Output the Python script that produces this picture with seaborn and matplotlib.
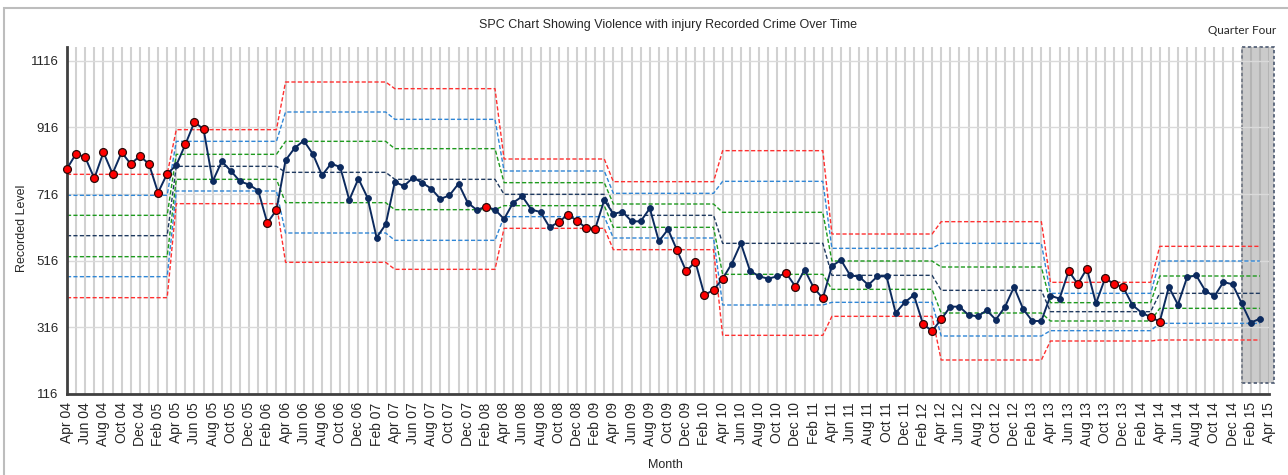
import numpy as np
import pandas as pd
import seaborn as sns
import matplotlib.pyplot as plt
from matplotlib.patches import Rectangle

# month labels Apr 04 .. Apr 15 (data runs to Mar 15)
months = pd.date_range("2004-04-01", "2015-04-01", freq="MS").strftime("%b %y").tolist()

recorded = [
    792, 837, 826, 763, 841, 777, 841, 806, 830, 806, 720, 777,
    802, 865, 932, 910, 754, 814, 785, 754, 744, 726, 629, 668,
    817, 854, 876, 836, 772, 807, 797, 698, 762, 705, 585, 625,
    752, 740, 765, 750, 732, 701, 712, 747, 690, 668, 678, 669,
    641, 690, 709, 669, 662, 616, 632, 654, 636, 614, 611, 698,
    656, 663, 634, 634, 673, 574, 610, 547, 484, 513, 413, 428,
    462, 507, 568, 486, 469, 462, 469, 478, 438, 489, 435, 403,
    500, 518, 472, 468, 443, 469, 469, 359, 391, 413, 326, 305,
    340, 378, 378, 353, 349, 367, 339, 377, 437, 371, 335, 335,
    411, 402, 485, 446, 492, 388, 463, 446, 436, 383, 360, 347,
    333, 437, 384, 466, 472, 426, 409, 452, 445, 388, 330, 342,
]

# points highlighted in red
flagged = [0, 1, 2, 3, 4, 5, 6, 7, 8, 9, 10, 11, 13, 14, 15, 22, 23, 46,
           54, 55, 56, 57, 58, 67, 68, 69, 70, 71, 72, 79, 80, 82, 83,
           94, 95, 96, 110, 111, 112, 114, 115, 116, 119, 120]

# control limits, one value per financial year (Apr-Mar)
ucl = [775, 909, 1052, 1032, 821, 753, 846, 596, 633, 451, 559]
upper2 = [712, 874, 962, 940, 785, 718, 754, 553, 568, 418, 515]
upper1 = [652, 835, 874, 852, 750, 686, 661, 515, 497, 390, 470]
centre = [591, 799, 781, 760, 715, 652, 568, 472, 427, 363, 418]
lower1 = [528, 760, 690, 669, 681, 616, 475, 430, 359, 335, 373]
lower2 = [468, 725, 599, 577, 648, 584, 383, 391, 290, 306, 328]
lcl = [405, 687, 511, 490, 613, 549, 292, 349, 218, 275, 278]

n = len(recorded)
df = pd.DataFrame({"idx": np.arange(n), "value": recorded})
df["flag"] = df["idx"].isin(flagged)
year = df["idx"] // 12

RED = "#ff3030"
BLUE = "#2f86d6"
GREEN = "#1e9a1e"
NAVY = "#1f3a60"
DATA = "#0c2a5e"

sns.set_theme(style="white")
plt.rcParams["font.family"] = ["Liberation Sans", "DejaVu Sans"]

fig = plt.figure(figsize=(12.88, 4.75), dpi=100)
ax = fig.add_axes([67 / 1288, 1 - 394 / 475, (1269 - 67) / 1288, (394 - 47) / 475])

# shaded quarter four box
ax.add_patch(Rectangle((129, 149), 3.6, 1157 - 149, facecolor="#cbcbcb",
                       edgecolor="#4a5870", ls=(0, (2, 1.5)), lw=1.2,
                       clip_on=False, zorder=0.3))

dash = (0, (3, 1.6))
for vals, col in [(ucl, RED), (upper2, BLUE), (upper1, GREEN), (centre, NAVY),
                  (lower1, GREEN), (lower2, BLUE), (lcl, RED)]:
    sns.lineplot(x=df["idx"], y=np.array(vals)[year], color=col, lw=1.0,
                 linestyle=dash, estimator=None, ax=ax, zorder=2)

sns.lineplot(data=df, x="idx", y="value", color=DATA, lw=1.4,
             estimator=None, ax=ax, zorder=3)
sns.scatterplot(data=df[~df["flag"]], x="idx", y="value", color=DATA,
                edgecolor=DATA, s=18, linewidth=0.6, ax=ax, zorder=4, clip_on=False)
sns.scatterplot(data=df[df["flag"]], x="idx", y="value", color="#ff0000",
                edgecolor="#2a0a0a", s=32, linewidth=0.9, ax=ax, zorder=5, clip_on=False)

ax.set_xlim(0, 132)
ax.set_ylim(116, 1157)
ax.set_xticks(range(0, 133, 2))
ax.set_xticklabels(months[::2], rotation=90, fontsize=10)
ax.set_xticks(range(0, 133), minor=True)
ax.set_yticks(range(116, 1117, 200))
ax.tick_params(axis="y", labelsize=9.5, length=4, width=1.2, color="#404040", pad=2)
ax.tick_params(axis="x", which="both", length=3, width=1, color="#404040", pad=3)
ax.set_axisbelow(True)
ax.grid(axis="x", which="both", color="#999999", alpha=0.45, lw=1.5)
ax.grid(axis="y", which="major", color="#dadada", lw=1.0)
for s in ["top", "right"]:
    ax.spines[s].set_visible(False)
for s in ["left", "bottom"]:
    ax.spines[s].set_color("#404040")
    ax.spines[s].set_linewidth(2)

ax.set_xlabel("")
ax.set_ylabel("")
fig.text(668 / 1288, 1 - 25 / 475, "SPC Chart Showing Violence with injury Recorded Crime Over Time",
         ha="center", va="center", fontsize=9)
fig.text(22 / 1288, 1 - 228 / 475, "Recorded Level", rotation=90, ha="center", va="center", fontsize=9)
fig.text(665 / 1288, 1 - 465 / 475, "Month", ha="center", va="center", fontsize=9)
fig.text(1242 / 1288, 1 - 30 / 475, "Quarter Four", ha="center", va="center", fontsize=8.5,
         family=["Lato", "DejaVu Sans"])

# outer chart frame
fig.patches.append(Rectangle((4 / 1288, -0.2), 1.2, 1.2 - 8 / 475, transform=fig.transFigure,
                             fill=False, edgecolor="#bdbdbd", lw=1.5))

fig.savefig("out.png", dpi=100)
